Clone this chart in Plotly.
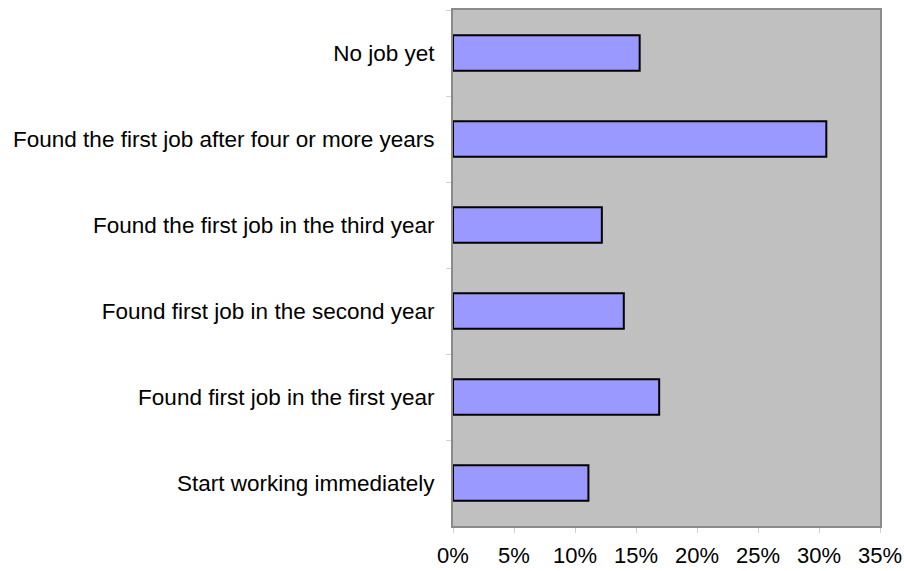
import plotly.graph_objects as go

categories = [
    "No job yet",
    "Found the first job after four or more years",
    "Found the first job in the third year",
    "Found first job in the second year",
    "Found first job in the first year",
    "Start working immediately",
]
values = [15.3, 30.6, 12.2, 14.0, 16.9, 11.1]
x_ticks = [0, 5, 10, 15, 20, 25, 30, 35]
x_tick_labels = ["0%", "5%", "10%", "15%", "20%", "25%", "30%", "35%"]

fig = go.Figure(
    go.Bar(
        y=categories,
        x=values,
        orientation="h",
        marker=dict(color="#9999FF", line=dict(color="#000000", width=2)),
        width=0.41,
    )
)

fig.update_layout(
    width=904,
    height=571,
    margin=dict(l=453, r=24, t=10, b=45, autoexpand=False),
    paper_bgcolor="white",
    plot_bgcolor="#C0C0C0",
    font=dict(family="Liberation Sans, Arial, sans-serif", size=22.5, color="#000000"),
    showlegend=False,
    bargap=0.59,
)

fig.update_xaxes(
    range=[0, 35],
    tickvals=x_ticks,
    ticktext=x_tick_labels,
    tickfont=dict(size=22),
    showgrid=False,
    zeroline=False,
    showline=True,
    mirror=True,
    linecolor="#8a8a8a",
    linewidth=2,
    ticks="outside",
    ticklen=5,
    tickcolor="#d0d0d0",
    ticklabelstandoff=4,
    ticklabeloverflow="allow",
    automargin=False,
)
fig.update_yaxes(
    autorange="reversed",
    showgrid=False,
    showline=True,
    mirror=True,
    linecolor="#8a8a8a",
    linewidth=2,
    ticks="outside",
    tickson="boundaries",
    ticklen=5,
    tickcolor="#d0d0d0",
    ticklabelstandoff=12,
    automargin=False,
)

fig.write_html(
    "out.html",
    config={"displayModeBar": False},
    post_script="document.body.style.margin='0';document.body.style.overflow='hidden';",
)
